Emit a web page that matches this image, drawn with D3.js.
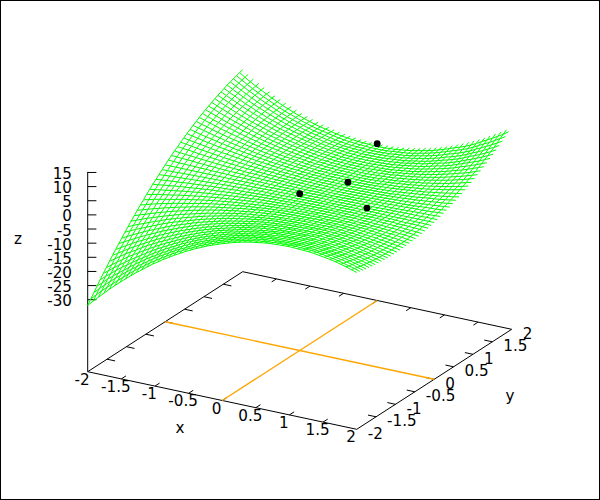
<!DOCTYPE html>
<html><head><meta charset="utf-8"><style>html,body{margin:0;padding:0;background:#fff}svg{display:block}text{font-family:"DejaVu Sans";font-size:15.2px;fill:#000}</style>
<script src="https://cdn.jsdelivr.net/npm/d3@7"></script></head><body><script>
const xTicks=[-2,-1.5,-1,-0.5,0,0.5,1,1.5,2];
const yTicks=[-2,-1.5,-1,-0.5,0,0.5,1,1.5,2];
const zTicks=[15,10,5,0,-5,-10,-15,-20,-25,-30];
const gridX=[-2,-1.92,-1.84,-1.76,-1.68,-1.6,-1.52,-1.44,-1.36,-1.28,-1.2,-1.12,-1.04,-0.96,-0.88,-0.8,-0.72,-0.64,-0.56,-0.48,-0.4,-0.32,-0.24,-0.16,-0.08,0,0.08,0.16,0.24,0.32,0.4,0.48,0.56,0.64,0.72,0.8,0.88,0.96,1.04,1.12,1.2,1.28,1.36,1.44,1.52,1.6,1.68,1.76,1.84,1.92,2];
const gridY=[-2,-1.92,-1.84,-1.76,-1.68,-1.6,-1.52,-1.44,-1.36,-1.28,-1.2,-1.12,-1.04,-0.96,-0.88,-0.8,-0.72,-0.64,-0.56,-0.48,-0.4,-0.32,-0.24,-0.16,-0.08,0,0.08,0.16,0.24,0.32,0.4,0.48,0.56,0.64,0.72,0.8,0.88,0.96,1.04,1.12,1.2,1.28,1.36,1.44,1.52,1.6,1.68,1.76,1.84,1.92,2];
const gridZ=[
[-32,-30.1,-28.3,-26.5,-24.7,-23,-21.4,-19.8,-18.3,-16.8,-15.4,-14,-12.6,-11.4,-10.1,-9,-7.8,-6.8,-5.7,-4.8,-3.8,-3,-2.1,-1.4,-0.7,0,0.6,1.2,1.7,2.2,2.6,2.9,3.2,3.5,3.7,3.8,3.9,4,4,3.9,3.8,3.7,3.5,3.2,2.9,2.6,2.2,1.7,1.2,0.6,0],
[-30.4,-28.6,-26.8,-25.1,-23.5,-21.9,-20.3,-18.8,-17.3,-15.9,-14.6,-13.2,-12,-10.8,-9.6,-8.5,-7.4,-6.4,-5.4,-4.5,-3.6,-2.8,-2,-1.3,-0.6,0,0.6,1.1,1.6,2,2.4,2.7,3,3.2,3.4,3.6,3.6,3.7,3.7,3.6,3.5,3.4,3.2,2.9,2.6,2.2,1.8,1.3,0.8,0.3,-0.3],
[-28.9,-27.1,-25.4,-23.8,-22.2,-20.7,-19.2,-17.8,-16.4,-15.1,-13.8,-12.5,-11.3,-10.2,-9.1,-8,-7,-6.1,-5.1,-4.2,-3.4,-2.6,-1.9,-1.2,-0.6,0,0.6,1,1.5,1.9,2.2,2.6,2.8,3,3.2,3.3,3.4,3.4,3.4,3.3,3.2,3,2.8,2.6,2.3,1.9,1.5,1.1,0.6,0,-0.6],
[-27.3,-25.7,-24,-22.5,-21,-19.6,-18.2,-16.8,-15.5,-14.2,-13,-11.9,-10.7,-9.7,-8.6,-7.6,-6.6,-5.7,-4.8,-4,-3.2,-2.5,-1.8,-1.1,-0.6,0,0.5,1,1.4,1.8,2.1,2.4,2.6,2.8,3,3,3.1,3.1,3.1,3,2.9,2.7,2.5,2.3,1.9,1.6,1.2,0.8,0.3,-0.3,-0.9],
[-25.8,-24.2,-22.7,-21.2,-19.8,-18.5,-17.2,-15.9,-14.7,-13.5,-12.3,-11.2,-10.1,-9.1,-8.1,-7.1,-6.2,-5.3,-4.5,-3.7,-3,-2.3,-1.7,-1.1,-0.5,0,0.5,0.9,1.3,1.6,1.9,2.2,2.4,2.6,2.7,2.8,2.8,2.8,2.8,2.7,2.6,2.4,2.2,1.9,1.6,1.3,0.9,0.5,0,-0.5,-1.1],
[-24.3,-22.8,-21.4,-20,-18.7,-17.4,-16.2,-15,-13.8,-12.6,-11.5,-10.5,-9.5,-8.5,-7.6,-6.7,-5.8,-5,-4.2,-3.5,-2.8,-2.2,-1.6,-1,-0.5,0,0.4,0.8,1.2,1.5,1.8,2,2.2,2.4,2.5,2.6,2.6,2.6,2.5,2.4,2.3,2.1,1.9,1.6,1.3,1,0.7,0.2,-0.2,-0.7,-1.3],
[-22.9,-21.5,-20.1,-18.8,-17.5,-16.3,-15.2,-14,-12.9,-11.8,-10.8,-9.8,-8.9,-8,-7.1,-6.2,-5.4,-4.7,-3.9,-3.3,-2.6,-2,-1.5,-0.9,-0.5,0,0.4,0.8,1.1,1.4,1.7,1.9,2.1,2.2,2.3,2.3,2.4,2.3,2.3,2.2,2,1.9,1.6,1.4,1.1,0.8,0.4,0,-0.4,-0.9,-1.5],
[-21.4,-20.1,-18.8,-17.5,-16.4,-15.3,-14.1,-13,-12,-11,-10.1,-9.2,-8.3,-7.4,-6.6,-5.8,-5.1,-4.3,-3.7,-3,-2.4,-1.9,-1.4,-0.9,-0.4,0,0.4,0.7,1,1.3,1.5,1.7,1.9,2,2.1,2.1,2.2,2.1,2,1.9,1.8,1.6,1.4,1.2,0.9,0.6,0.2,-0.2,-0.7,-1.1,-1.6],
[-20,-18.8,-17.6,-16.4,-15.3,-14.3,-13.2,-12.2,-11.2,-10.3,-9.4,-8.5,-7.7,-6.9,-6.1,-5.4,-4.7,-4,-3.4,-2.8,-2.3,-1.8,-1.3,-0.8,-0.4,0,0.4,0.7,1,1.2,1.4,1.6,1.7,1.8,1.9,1.9,1.9,1.9,1.9,1.7,1.6,1.4,1.2,0.9,0.7,0.4,0,-0.3,-0.8,-1.2,-1.7],
[-18.6,-17.5,-16.4,-15.3,-14.2,-13.3,-12.3,-11.4,-10.4,-9.5,-8.7,-7.9,-7.1,-6.4,-5.7,-5,-4.4,-3.7,-3.2,-2.6,-2.1,-1.6,-1.2,-0.8,-0.4,0,0.3,0.6,0.9,1.1,1.3,1.4,1.6,1.7,1.7,1.7,1.7,1.7,1.7,1.5,1.4,1.2,1,0.8,0.5,0.2,-0.2,-0.6,-1,-1.4,-1.8],
[-17.3,-16.2,-15.2,-14.2,-13.2,-12.3,-11.4,-10.5,-9.6,-8.8,-8.1,-7.3,-6.6,-5.9,-5.2,-4.6,-4,-3.4,-2.9,-2.4,-1.9,-1.5,-1.1,-0.7,-0.4,0,0.3,0.6,0.8,1,1.2,1.3,1.4,1.5,1.5,1.5,1.5,1.5,1.5,1.3,1.2,1,0.8,0.6,0.3,0,-0.3,-0.7,-1.1,-1.5,-1.9],
[-16,-15,-14,-13.1,-12.2,-11.3,-10.5,-9.7,-8.9,-8.1,-7.4,-6.7,-6.1,-5.4,-4.8,-4.2,-3.7,-3.2,-2.7,-2.2,-1.8,-1.4,-1,-0.7,-0.3,0,0.3,0.5,0.7,0.9,1,1.2,1.3,1.3,1.4,1.4,1.4,1.3,1.3,1.1,1,0.8,0.6,0.4,0.1,-0.1,-0.5,-0.8,-1.2,-1.6,-2],
[-14.6,-13.7,-12.8,-12,-11.2,-10.4,-9.6,-8.8,-8.1,-7.4,-6.8,-6.2,-5.6,-5,-4.4,-3.9,-3.4,-2.9,-2.4,-2,-1.6,-1.3,-0.9,-0.6,-0.3,0,0.3,0.5,0.7,0.8,0.9,1.1,1.1,1.2,1.2,1.2,1.2,1.2,1.1,1,0.8,0.7,0.5,0.2,0,-0.3,-0.6,-0.9,-1.3,-1.6,-2],
[-13.4,-12.5,-11.7,-11,-10.2,-9.5,-8.8,-8,-7.4,-6.8,-6.2,-5.6,-5.1,-4.5,-4,-3.5,-3.1,-2.6,-2.2,-1.8,-1.4,-1.1,-0.8,-0.6,-0.3,0,0.2,0.4,0.6,0.7,0.8,0.9,1,1,1,1,1,1,1,0.8,0.7,0.5,0.3,0.1,-0.1,-0.4,-0.6,-1,-1.3,-1.6,-2],
[-12.1,-11.4,-10.6,-9.9,-9.2,-8.6,-7.9,-7.3,-6.7,-6.1,-5.6,-5.1,-4.6,-4.1,-3.6,-3.2,-2.8,-2.4,-2,-1.6,-1.3,-1,-0.7,-0.5,-0.3,0,0.2,0.4,0.5,0.6,0.7,0.8,0.9,0.9,0.9,0.9,0.9,0.9,0.8,0.7,0.5,0.4,0.2,0,-0.2,-0.5,-0.7,-1,-1.3,-1.6,-2],
[-10.9,-10.2,-9.6,-8.9,-8.3,-7.7,-7.1,-6.5,-6,-5.5,-5,-4.5,-4.1,-3.6,-3.2,-2.8,-2.4,-2.1,-1.8,-1.4,-1.2,-0.9,-0.6,-0.4,-0.2,0,0.2,0.3,0.5,0.6,0.6,0.7,0.8,0.8,0.8,0.8,0.8,0.7,0.7,0.6,0.4,0.3,0.1,-0.1,-0.3,-0.5,-0.8,-1,-1.3,-1.6,-1.9],
[-9.7,-9.1,-8.5,-7.9,-7.4,-6.8,-6.3,-5.8,-5.3,-4.9,-4.4,-4,-3.6,-3.2,-2.8,-2.5,-2.2,-1.9,-1.6,-1.3,-1,-0.8,-0.5,-0.3,-0.2,0,0.2,0.3,0.4,0.5,0.5,0.6,0.6,0.7,0.7,0.6,0.6,0.6,0.5,0.4,0.3,0.2,0,-0.1,-0.3,-0.5,-0.8,-1,-1.3,-1.5,-1.8],
[-8.5,-8,-7.4,-6.9,-6.4,-6,-5.5,-5.1,-4.7,-4.3,-3.9,-3.5,-3.1,-2.8,-2.5,-2.2,-1.9,-1.6,-1.4,-1.1,-0.9,-0.7,-0.5,-0.3,-0.1,0,0.1,0.3,0.3,0.4,0.5,0.5,0.5,0.6,0.5,0.5,0.5,0.5,0.4,0.3,0.2,0.1,0,-0.2,-0.4,-0.6,-0.8,-1,-1.2,-1.5,-1.7],
[-7.4,-6.9,-6.4,-6,-5.6,-5.2,-4.8,-4.4,-4,-3.7,-3.3,-3,-2.7,-2.4,-2.1,-1.9,-1.6,-1.4,-1.2,-1,-0.8,-0.6,-0.4,-0.3,-0.1,0,0.1,0.2,0.3,0.3,0.4,0.4,0.5,0.4,0.4,0.4,0.4,0.3,0.3,0.2,0.1,0,-0.1,-0.3,-0.4,-0.6,-0.7,-0.9,-1.1,-1.4,-1.6],
[-6.2,-5.8,-5.4,-5.1,-4.7,-4.4,-4,-3.7,-3.4,-3.1,-2.8,-2.5,-2.3,-2,-1.8,-1.6,-1.4,-1.2,-1,-0.8,-0.6,-0.5,-0.4,-0.2,-0.1,0,0.1,0.2,0.2,0.3,0.3,0.3,0.3,0.4,0.3,0.3,0.3,0.3,0.2,0.1,0,0,-0.2,-0.3,-0.4,-0.6,-0.7,-0.9,-1,-1.2,-1.5],
[-5.1,-4.8,-4.5,-4.2,-3.9,-3.6,-3.3,-3,-2.8,-2.5,-2.3,-2.1,-1.9,-1.7,-1.5,-1.3,-1.1,-1,-0.8,-0.7,-0.5,-0.4,-0.3,-0.2,-0.1,0,0.1,0.1,0.2,0.2,0.3,0.3,0.3,0.3,0.3,0.3,0.2,0.2,0.2,0.1,0,-0.1,-0.2,-0.3,-0.4,-0.5,-0.6,-0.8,-0.9,-1.1,-1.3],
[-4,-3.8,-3.5,-3.3,-3,-2.8,-2.6,-2.4,-2.2,-2,-1.8,-1.6,-1.5,-1.3,-1.2,-1,-0.9,-0.8,-0.6,-0.5,-0.4,-0.3,-0.2,-0.1,-0.1,0,0.1,0.1,0.1,0.2,0.2,0.2,0.2,0.2,0.2,0.2,0.2,0.1,0.1,0,0,-0.1,-0.1,-0.2,-0.3,-0.4,-0.5,-0.7,-0.8,-0.9,-1.1],
[-3,-2.8,-2.6,-2.4,-2.3,-2.1,-1.9,-1.8,-1.6,-1.5,-1.3,-1.2,-1.1,-1,-0.9,-0.7,-0.7,-0.6,-0.5,-0.4,-0.3,-0.2,-0.2,-0.1,-0.1,0,0,0.1,0.1,0.1,0.1,0.1,0.1,0.1,0.1,0.1,0.1,0.1,0,0,0,-0.1,-0.1,-0.2,-0.2,-0.4,-0.4,-0.5,-0.6,-0.7,-0.9],
[-2,-1.9,-1.7,-1.6,-1.5,-1.4,-1.3,-1.2,-1.1,-1,-0.9,-0.8,-0.7,-0.6,-0.6,-0.5,-0.4,-0.4,-0.3,-0.2,-0.2,-0.2,-0.1,-0.1,0,0,0,0.1,0.1,0.1,0.1,0.1,0.1,0.1,0.1,0.1,0.1,0,0,0,-0.1,-0.1,-0.1,-0.1,-0.2,-0.3,-0.3,-0.3,-0.4,-0.5,-0.6],
[-1,-0.9,-0.9,-0.8,-0.7,-0.7,-0.6,-0.6,-0.5,-0.5,-0.4,-0.4,-0.4,-0.3,-0.3,-0.2,-0.2,-0.2,-0.2,-0.1,-0.1,-0.1,-0.1,0,0,0,0,0,0,0,0,0,0,0,0,0,0,0,0,0,0,-0.1,-0.1,-0.1,-0.1,-0.1,-0.2,-0.2,-0.2,-0.3,-0.3],
[0,0,0,0,0,0,0,0,0,0,0,0,0,0,0,0,0,0,0,0,0,0,0,0,0,0,0,0,0,0,0,0,0,0,0,0,0,0,0,0,0,0,0,0,0,0,0,0,0,0,0],
[1,0.9,0.8,0.8,0.7,0.7,0.6,0.6,0.5,0.5,0.4,0.4,0.3,0.3,0.3,0.2,0.2,0.2,0.1,0.1,0.1,0.1,0,0,0,0,0,0,0,0,0,0,0,0,0,0,0,0,0,0,0.1,0.1,0.1,0.1,0.2,0.2,0.2,0.2,0.3,0.3,0.3],
[1.9,1.8,1.7,1.6,1.5,1.3,1.2,1.1,1,0.9,0.8,0.7,0.7,0.6,0.5,0.4,0.4,0.3,0.3,0.2,0.2,0.1,0.1,0,0,0,0,0,-0.1,-0.1,-0.1,-0.1,-0.1,0,0,0,0,0,0.1,0.1,0.1,0.1,0.2,0.2,0.3,0.4,0.4,0.5,0.5,0.6,0.7],
[2.8,2.6,2.4,2.3,2.1,1.9,1.8,1.6,1.5,1.3,1.2,1.1,1,0.8,0.7,0.7,0.6,0.5,0.4,0.3,0.3,0.2,0.1,0.1,0,0,0,-0.1,-0.1,-0.1,-0.1,-0.1,-0.1,-0.1,-0.1,0,0,0,0.1,0.1,0.2,0.3,0.3,0.4,0.5,0.6,0.6,0.7,0.8,1,1.1],
[3.6,3.4,3.2,3,2.7,2.5,2.3,2.1,1.9,1.7,1.6,1.4,1.2,1.1,1,0.8,0.7,0.6,0.5,0.4,0.3,0.2,0.2,0.1,0,0,0,-0.1,-0.1,-0.1,-0.1,-0.1,-0.1,-0.1,-0.1,0,0,0.1,0.1,0.2,0.3,0.3,0.4,0.5,0.6,0.8,0.9,1,1.1,1.3,1.5],
[4.5,4.2,3.9,3.6,3.3,3.1,2.8,2.6,2.3,2.1,1.9,1.7,1.5,1.3,1.2,1,0.9,0.8,0.6,0.5,0.4,0.3,0.2,0.1,0.1,0,0,-0.1,-0.1,-0.1,-0.1,-0.1,-0.1,-0.1,0,0,0,0.1,0.2,0.3,0.4,0.5,0.6,0.7,0.8,1,1.2,1.3,1.5,1.7,1.9],
[5.3,4.9,4.6,4.3,4,3.6,3.3,3,2.8,2.5,2.3,2,1.8,1.6,1.4,1.2,1,0.9,0.7,0.6,0.5,0.4,0.2,0.2,0.1,0,0,-0.1,-0.1,-0.1,-0.1,-0.1,-0.1,-0.1,0,0,0.1,0.2,0.3,0.4,0.5,0.6,0.8,0.9,1.1,1.3,1.5,1.7,1.9,2.1,2.4],
[6.1,5.7,5.3,4.9,4.5,4.2,3.8,3.5,3.2,2.9,2.6,2.3,2.1,1.8,1.6,1.4,1.2,1,0.8,0.7,0.5,0.4,0.3,0.2,0.1,0,0,-0.1,-0.1,-0.1,-0.1,-0.1,-0.1,-0.1,0,0.1,0.1,0.2,0.3,0.5,0.6,0.8,0.9,1.1,1.4,1.6,1.8,2,2.3,2.6,2.9],
[6.9,6.4,5.9,5.5,5.1,4.7,4.3,3.9,3.5,3.2,2.9,2.6,2.3,2,1.8,1.5,1.3,1.1,0.9,0.7,0.6,0.4,0.3,0.2,0.1,0,0,-0.1,-0.1,-0.1,-0.1,-0.1,-0.1,0,0,0.1,0.2,0.3,0.4,0.6,0.8,1,1.2,1.4,1.6,1.9,2.1,2.4,2.7,3,3.4],
[7.6,7.1,6.6,6.1,5.6,5.2,4.7,4.3,3.9,3.5,3.2,2.8,2.5,2.2,1.9,1.7,1.4,1.2,1,0.8,0.6,0.5,0.3,0.2,0.1,0,0,-0.1,-0.1,-0.1,-0.1,-0.1,-0.1,0,0.1,0.2,0.3,0.4,0.6,0.8,1,1.2,1.4,1.6,1.9,2.2,2.5,2.8,3.2,3.5,3.9],
[8.3,7.7,7.2,6.6,6.1,5.6,5.1,4.7,4.3,3.8,3.5,3.1,2.7,2.4,2.1,1.8,1.5,1.3,1.1,0.8,0.6,0.5,0.3,0.2,0.1,0,0,-0.1,-0.1,-0.1,-0.1,-0.1,-0.1,0,0.1,0.3,0.4,0.5,0.7,0.9,1.2,1.4,1.6,1.9,2.2,2.6,2.9,3.3,3.7,4.1,4.5],
[9,8.4,7.8,7.2,6.6,6.1,5.6,5.1,4.6,4.1,3.7,3.3,2.9,2.6,2.2,1.9,1.6,1.4,1.1,0.9,0.7,0.5,0.3,0.2,0.1,0,0,-0.1,-0.1,-0.1,-0.1,-0.1,0,0.1,0.2,0.3,0.5,0.7,0.9,1.1,1.4,1.6,1.9,2.2,2.6,2.9,3.3,3.7,4.1,4.6,5.1],
[9.7,9,8.3,7.7,7.1,6.5,6,5.4,4.9,4.4,4,3.5,3.1,2.7,2.4,2,1.7,1.4,1.2,0.9,0.7,0.5,0.4,0.2,0.1,0,0,-0.1,-0.1,-0.1,-0.1,-0.1,0,0.1,0.3,0.4,0.6,0.8,1,1.3,1.6,1.8,2.2,2.5,2.9,3.3,3.7,4.2,4.7,5.2,5.7],
[10.3,9.6,8.9,8.2,7.5,6.9,6.3,5.7,5.2,4.7,4.2,3.7,3.3,2.9,2.5,2.1,1.8,1.5,1.2,1,0.7,0.5,0.4,0.2,0.1,0,0,-0.1,-0.1,-0.1,-0.1,0,0.1,0.2,0.3,0.5,0.7,1,1.2,1.5,1.8,2.1,2.5,2.9,3.3,3.7,4.2,4.7,5.2,5.8,6.3],
[10.9,10.2,9.4,8.7,8,7.3,6.7,6.1,5.5,4.9,4.4,3.9,3.4,3,2.6,2.2,1.9,1.6,1.3,1,0.8,0.5,0.4,0.2,0.1,0,0,-0.1,-0.1,-0.1,0,0,0.1,0.3,0.4,0.7,0.9,1.1,1.4,1.7,2,2.4,2.8,3.2,3.7,4.2,4.7,5.2,5.8,6.4,7],
[11.5,10.7,9.9,9.2,8.4,7.7,7,6.4,5.8,5.2,4.6,4.1,3.6,3.1,2.7,2.3,2,1.6,1.3,1,0.8,0.6,0.4,0.2,0.1,0,0,-0.1,-0.1,-0.1,0,0.1,0.2,0.3,0.5,0.8,1,1.3,1.6,1.9,2.3,2.7,3.1,3.6,4.1,4.6,5.2,5.7,6.3,7,7.7],
[12.1,11.2,10.4,9.6,8.8,8,7.3,6.6,6,5.4,4.8,4.2,3.7,3.2,2.8,2.4,2,1.7,1.3,1.1,0.8,0.6,0.4,0.2,0.1,0,0,-0.1,-0.1,0,0,0.1,0.2,0.4,0.6,0.9,1.1,1.4,1.8,2.1,2.6,3,3.4,3.9,4.5,5.1,5.6,6.3,7,7.7,8.4],
[12.6,11.7,10.9,10,9.2,8.4,7.6,6.9,6.2,5.6,5,4.4,3.9,3.4,2.9,2.4,2,1.7,1.4,1.1,0.8,0.6,0.4,0.2,0.1,0,0,-0.1,-0.1,0,0.1,0.2,0.3,0.5,0.8,1,1.3,1.6,2,2.4,2.9,3.3,3.8,4.3,4.9,5.6,6.2,6.9,7.6,8.4,9.1],
[13.1,12.2,11.3,10.4,9.5,8.7,7.9,7.2,6.4,5.8,5.1,4.5,4,3.5,3,2.5,2.1,1.8,1.4,1.1,0.8,0.6,0.4,0.2,0.1,0,0,-0.1,0,0,0.1,0.2,0.4,0.6,0.9,1.2,1.5,1.8,2.2,2.7,3.2,3.6,4.1,4.7,5.4,6.1,6.8,7.5,8.2,9.1,9.9],
[13.6,12.6,11.7,10.7,9.8,9,8.1,7.4,6.6,5.9,5.3,4.6,4.1,3.6,3.1,2.5,2.1,1.8,1.4,1.1,0.8,0.6,0.4,0.2,0.1,0,0,0,0,0.1,0.2,0.3,0.5,0.7,1,1.4,1.7,2,2.5,3,3.5,3.9,4.5,5.1,5.8,6.6,7.3,8.1,8.9,9.8,10.7],
[14.1,13,12,11.1,10.1,9.2,8.4,7.6,6.8,6.1,5.4,4.7,4.2,3.6,3.1,2.6,2.1,1.8,1.4,1.1,0.8,0.6,0.4,0.2,0.1,0,0,0,0,0.1,0.3,0.4,0.6,0.8,1.1,1.5,1.8,2.2,2.7,3.2,3.8,4.3,4.9,5.5,6.3,7.2,7.9,8.7,9.6,10.5,11.5],
[14.5,13.4,12.4,11.4,10.4,9.5,8.6,7.8,7,6.2,5.5,4.8,4.2,3.7,3.1,2.6,2.2,1.8,1.4,1.1,0.8,0.5,0.3,0.2,0.1,0,0,0,0.1,0.2,0.3,0.5,0.7,1,1.3,1.7,2,2.5,3,3.5,4.2,4.7,5.3,6,6.8,7.7,8.5,9.4,10.4,11.3,12.4],
[14.9,13.8,12.7,11.7,10.7,9.7,8.8,8,7.1,6.3,5.6,4.9,4.3,3.7,3.1,2.6,2.2,1.8,1.4,1,0.7,0.5,0.3,0.2,0.1,0,0,0,0.1,0.2,0.4,0.6,0.8,1.1,1.5,1.9,2.3,2.8,3.3,3.9,4.6,5.1,5.8,6.5,7.3,8.3,9.2,10.1,11.1,12.1,13.2],
[15.3,14.1,13,11.9,10.9,9.9,9,8.1,7.2,6.4,5.7,5,4.3,3.7,3.1,2.6,2.2,1.8,1.4,1,0.7,0.5,0.3,0.2,0.1,0,0,0,0.1,0.3,0.5,0.7,0.9,1.3,1.7,2.1,2.6,3.1,3.7,4.3,5,5.6,6.3,7,7.9,8.9,9.9,10.8,11.9,13,14.1],
[15.7,14.4,13.2,12.1,11.1,10.1,9.1,8.2,7.3,6.5,5.7,5,4.3,3.7,3.1,2.6,2.2,1.7,1.3,1,0.7,0.5,0.3,0.2,0.1,0,0,0,0.2,0.3,0.6,0.8,1.1,1.5,1.9,2.3,2.8,3.4,4,4.7,5.4,6,6.7,7.6,8.5,9.6,10.6,11.6,12.7,13.8,15.1],
[16,14.7,13.5,12.4,11.3,10.2,9.2,8.3,7.4,6.6,5.8,5,4.3,3.7,3.1,2.6,2.1,1.6,1.2,0.9,0.6,0.4,0.2,0.1,0,0,0,0.1,0.2,0.4,0.6,0.9,1.2,1.6,2.1,2.6,3.1,3.7,4.3,5,5.8,6.6,7.4,8.3,9.2,10.2,11.3,12.4,13.5,14.7,16]];
const dotX=[0,1,0,0.333],dotY=[0,0,2,0.667],dotZ=[0,0,0,-0.148];
const W=600,H=500;
const svg=d3.select("body").append("svg").attr("width",W).attr("height",H);
const fx=d3.scaleLinear([-2,2],[0,1]),fy=d3.scaleLinear([-2,2],[0,1]);
const zBase=-55.45;
const zs=d3.scaleLinear([zBase,15.2],[371.7,171.9]);
const O=[87.7,371.7],EX=[269,57.6],EY=[155,-100];
const P=(x,y,z=zBase)=>[O[0]+fx(x)*EX[0]+fy(y)*EY[0],zs(z)+fx(x)*EX[1]+fy(y)*EY[1]];
const L=d3.line();
svg.append("rect").attr("x",0.5).attr("y",0.5).attr("width",W-1).attr("height",H-1).attr("fill","none").attr("stroke","#000");
const seg=(a,b,c="#000",w=1)=>svg.append("path").attr("d",L([a,b])).attr("fill","none").attr("stroke",c).attr("stroke-width",w);
seg(P(-2,-2),P(2,-2));seg(P(2,-2),P(2,2));seg(P(2,2),P(-2,2));seg(P(-2,2),P(-2,-2));
seg([O[0],zs(15.2)],O);
xTicks.slice(1,-1).forEach(t=>{seg(P(t,-2),P(t,-2+0.12));seg(P(t,2),P(t,2-0.12));});
yTicks.slice(1,-1).forEach(t=>{seg(P(-2,t),P(-2+0.12,t));seg(P(2,t),P(2-0.12,t));});
zTicks.forEach(t=>seg([O[0],zs(t)],[O[0]+8.7,zs(t)]));
seg(P(0,-2),P(0,2),"#ffa500",1.4);seg(P(-2,0),P(2,0),"#ffa500",1.4);
const g=svg.append("g").attr("fill","none").attr("stroke","#00ff00").attr("stroke-width",1);
gridY.slice(0,-1).forEach((y,j)=>g.append("path").attr("d",L(gridX.map((x,i)=>P(x,y,gridZ[j][i])))));
gridX.slice(0,-1).forEach((x,i)=>g.append("path").attr("d",L(gridY.map((y,j)=>P(x,y,gridZ[j][i])))));
dotX.forEach((x,i)=>{const p=P(x,dotY[i],dotZ[i]);svg.append("circle").attr("cx",p[0]).attr("cy",p[1]).attr("r",3.4).attr("fill","#000");});
const T=(s,x,y,a)=>svg.append("text").attr("x",x).attr("y",y).attr("text-anchor",a).text(s);
xTicks.forEach(t=>{const p=P(t,-2);T(t,p[0]-5.5,p[1]+13,"middle");});
yTicks.forEach(t=>{const p=P(2,t);T(t,p[0]+11,p[1]+9.5,"start");});
zTicks.forEach(t=>T(t,72,zs(t)+6.5,"end"));
T("z",18,244,"middle");T("x",180,433,"middle");T("y",510,401,"middle");
</script></body></html>
